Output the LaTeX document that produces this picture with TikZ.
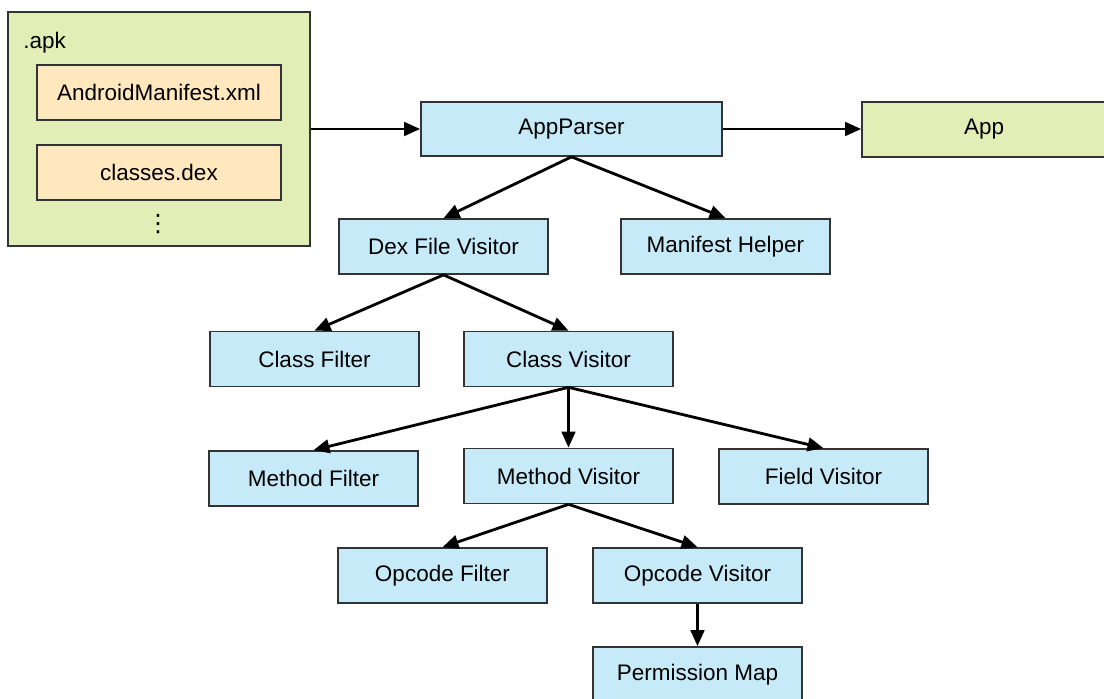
\documentclass[tikz,border=0pt]{standalone}
\usepackage{fontspec}
\setmainfont{Liberation Sans}
\newfontfamily\dotsfont{DejaVu Sans}
\usetikzlibrary{arrows.meta}

\definecolor{visitorblue}{RGB}{198,234,248}
\definecolor{apkgreen}{RGB}{225,238,182}
\definecolor{fileorange}{RGB}{255,231,190}
\definecolor{edgegray}{RGB}{51,51,51}

\begin{document}
\begin{tikzpicture}[
    font=\fontsize{16}{19}\selectfont,
    box/.style={draw=edgegray,line width=1.2pt,minimum width=5.225cm,minimum height=1.375cm,inner sep=0pt},
    visitor/.style={box,fill=visitorblue},
    apkfile/.style={box,fill=fileorange,minimum width=6.1cm},
    link/.style={line width=2pt,-{Triangle[length=0.4cm,width=0.34cm]}}
  ]

\useasboundingbox (0, 0) rectangle (27.6, 17.45) ;
\clip (0, 0) rectangle (27.6, 17.45) ;

\node[box,fill=apkgreen,minimum width=7.55cm,minimum height=5.85cm] (apk) at (3.975, 14.225) {} ; % apk 
\node[anchor=west,inner sep=0pt] (apklabel) at (0.575, 16.375) {.apk} ;
\node[apkfile] (manifest) at (3.975, 15.1375) {AndroidManifest.xml} ;
\node[apkfile] (dex) at (3.975, 13.1375) {classes.dex} ;
\node[inner sep=0pt,font=\dotsfont\fontsize{17}{17}\selectfont] (more) at (3.95, 11.85) {⋮} ;

\node[visitor,minimum width=7.525cm,minimum height=1.35cm] (parser) at (14.2875, 14.225) {AppParser} ; % AppParser 
\node[box,fill=apkgreen,minimum width=6.1cm] (app) at (24.6, 14.2125) {App} ; % App 

\node[visitor] (dexvisitor) at (11.0875, 11.2875) {Dex File Visitor} ;
\node[visitor] (helper) at (18.1375, 11.2875) {Manifest Helper} ;

\node[visitor] (classfilter) at (7.8625, 8.475) {Class Filter} ;
\node[visitor] (classvisitor) at (14.2125, 8.475) {Class Visitor} ;

\node[visitor] (methodfilter) at (7.8375, 5.4875) {Method Filter} ;
\node[visitor] (methodvisitor) at (14.2125, 5.55) {Method Visitor} ;
\node[visitor] (fieldvisitor) at (20.5875, 5.5375) {Field Visitor} ;

\node[visitor] (opcodefilter) at (11.0625, 3.0625) {Opcode Filter} ;
\node[visitor] (opcodevisitor) at (17.4375, 3.0625) {Opcode Visitor} ;
\node[visitor] (permmap) at (17.4375, 0.5875) {Permission Map} ;

\draw[link] (apk.east |- parser) -- (parser.west) ;
\draw[link] (parser.east) -- (app.west |- parser) ;
\draw[link] (parser.south) -- (dexvisitor.north) ;
\draw[link] (parser.south) -- (helper.north) ;
\draw[link] (dexvisitor.south) -- (classfilter.north) ;
\draw[link] (dexvisitor.south) -- (classvisitor.north) ;
\draw[link] (classvisitor.south) -- (methodfilter.north) ;
\draw[link] (classvisitor.south) -- (methodvisitor.north) ;
\draw[link] (classvisitor.south) -- (fieldvisitor.north) ;
\draw[link] (methodvisitor.south) -- (opcodefilter.north) ;
\draw[link] (methodvisitor.south) -- (opcodevisitor.north) ;
\draw[link] (opcodevisitor.south) -- (permmap.north) ;
\end{tikzpicture}
\end{document}
